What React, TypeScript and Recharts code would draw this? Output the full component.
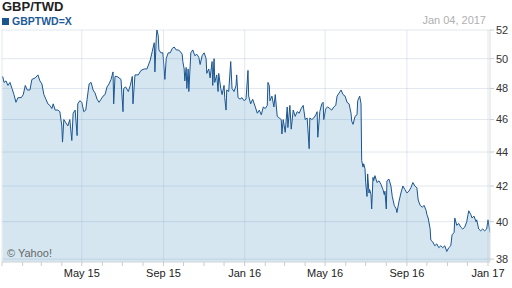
import { AreaChart, Area, XAxis, YAxis, CartesianGrid, ReferenceLine } from "recharts";

document.body.style.margin = "0";

// days since 1 Jan 2015
const tradingDays = [
  1, 3, 6, 9, 12, 15, 18, 21, 24, 29,
  32, 35, 38, 42, 45, 50, 54, 57, 60, 63,
  66, 69, 72, 75, 77, 80, 84, 87, 90, 91,
  93, 96, 99, 102, 105, 107, 110, 113, 114, 117,
  120, 123, 126, 128, 131, 134, 137, 140, 143, 146,
  149, 152, 155, 158, 161, 164, 167, 168, 170, 173,
  176, 179, 182, 183, 186, 190, 193, 196, 197, 200,
  205, 209, 214, 218, 223, 226, 229, 230, 232, 233,
  235, 236, 239, 242, 245, 247, 250, 253, 256, 259,
  262, 265, 268, 271, 272, 274, 275, 277, 278, 280,
  281, 283, 284, 287, 290, 293, 296, 298, 301, 304,
  307, 308, 311, 313, 316, 317, 319, 320, 323, 325,
  326, 329, 331, 334, 335, 337, 338, 341, 344, 346,
  349, 352, 353, 355, 358, 361, 364, 367, 370, 371,
  374, 377, 381, 384, 387, 390, 393, 396, 399, 400,
  402, 403, 406, 409, 411, 414, 417, 420, 421, 423,
  426, 429, 430, 433, 435, 438, 441, 444, 447, 450,
  453, 456, 459, 462, 463, 466, 469, 472, 474, 475,
  478, 481, 483, 484, 487, 490, 493, 496, 499, 502,
  504, 507, 510, 513, 516, 519, 522, 525, 526, 528,
  531, 534, 535, 538, 540, 541, 543, 544, 546, 547,
  549, 550, 552, 553, 555, 556, 558, 559, 561, 564,
  567, 570, 573, 575, 576, 578, 579, 582, 585, 587,
  590, 593, 594, 597, 600, 603, 606, 609, 612, 615,
  618, 621, 624, 626, 629, 632, 635, 638, 639, 641,
  644, 645, 648, 651, 654, 657, 660, 663, 666, 669,
  672, 675, 677, 680, 681, 684, 687, 690, 693, 696,
  699, 701, 702, 705, 707, 710, 713, 714, 717, 720,
  723, 726, 729, 731, 734,
];

const gbpTwd = [
  48.8, 48.4, 48.5, 48.2, 48.4, 48.0, 47.6, 47.1, 47.4, 47.4,
  47.6, 48.2, 47.9, 47.9, 48.6, 48.7, 48.9, 48.5, 48.3, 47.6,
  47.3, 47.0, 46.9, 46.7, 47.0, 46.6, 46.6, 46.5, 45.6, 44.6,
  46.0, 45.8, 45.6, 46.0, 44.7, 46.4, 46.6, 45.0, 47.0, 47.2,
  47.1, 46.5, 46.6, 47.3, 48.3, 48.4, 47.9, 47.7, 47.3, 47.1,
  47.3, 47.5, 47.6, 48.1, 48.3, 48.6, 49.1, 47.0, 48.8, 48.8,
  48.7, 48.6, 46.5, 48.0, 48.1, 47.8, 48.2, 48.8, 47.0, 48.9,
  48.9, 49.2, 49.3, 49.3, 49.9, 50.5, 51.1, 49.1, 51.4, 52.0,
  51.6, 50.6, 50.4, 50.4, 48.6, 50.0, 50.4, 50.4, 50.7, 50.8,
  50.6, 50.6, 50.5, 50.3, 49.8, 49.3, 48.5, 49.4, 48.0, 49.3,
  47.8, 49.5, 50.4, 50.6, 50.2, 50.3, 50.1, 49.6, 50.2, 50.4,
  50.0, 49.0, 49.3, 48.7, 49.8, 48.2, 50.0, 48.4, 48.9, 47.8,
  49.0, 48.0, 47.6, 48.2, 47.4, 46.6, 47.9, 47.8, 49.8, 48.0,
  47.8, 48.2, 48.9, 47.4, 47.3, 47.4, 47.2, 47.3, 49.2, 47.5,
  47.0, 47.3, 46.8, 46.4, 46.6, 46.3, 46.8, 46.7, 46.9, 48.4,
  48.2, 47.2, 47.5, 46.8, 47.6, 46.2, 46.1, 46.0, 45.1, 46.0,
  45.2, 46.8, 45.5, 46.9, 45.4, 46.6, 46.2, 46.5, 46.4, 46.7,
  46.9, 46.0, 46.1, 44.2, 46.1, 46.0, 46.1, 46.3, 46.5, 44.9,
  46.5, 47.0, 47.1, 46.0, 46.7, 46.8, 46.7, 46.6, 46.8, 46.9,
  47.5, 47.7, 47.9, 47.6, 47.5, 47.1, 47.0, 46.4, 45.9, 45.7,
  46.2, 46.3, 47.2, 47.5, 47.0, 43.5, 43.1, 43.3, 43.0, 42.2,
  41.4, 42.7, 41.6, 41.8, 41.5, 40.7, 42.5, 42.3, 42.6, 42.2,
  42.3, 42.1, 41.8, 41.5, 41.7, 40.7, 42.3, 42.4, 42.0, 41.4,
  40.9, 40.7, 40.5, 41.1, 41.6, 42.0, 41.8, 41.6, 41.7, 41.9,
  42.2, 42.0, 41.9, 41.2, 40.9, 40.8, 40.9, 40.6, 40.4, 40.2,
  39.6, 39.0, 38.9, 38.7, 38.8, 38.6, 38.7, 38.6, 38.7, 38.4,
  38.6, 38.7, 39.3, 39.4, 40.2, 39.8, 39.9, 39.7, 39.6, 39.7,
  40.0, 40.4, 40.6, 40.4, 40.2, 40.3, 40.0, 40.1, 39.6, 39.5,
  39.6, 39.5, 39.6, 40.1, 39.4,
];

const monthStarts = [0, 31, 59, 90, 120, 151, 181, 212, 243, 273, 304, 334, 365, 396, 425, 456, 486, 517, 547, 578, 609, 639, 670, 700, 731];
const majorTicks = [120, 243, 365, 486, 609, 731];
const majorLabels = ["May 15", "Sep 15", "Jan 16", "May 16", "Sep 16", "Jan 17"];
const yTicks = [38, 40, 42, 44, 46, 48, 50, 52];

const data = tradingDays.map((day, i) => ({ day, rate: gbpTwd[i] }));

const font = "Arial, 'Liberation Sans', sans-serif";
const gridStroke = "#9fb3c8";

export default function App() {
  return (
    <div style={{ position: "relative", width: 512, height: 288, fontFamily: font, background: "#fff" }}>
      <AreaChart width={512} height={288} data={data} margin={{ top: 30, right: 0, bottom: 0, left: 2 }}>
        <CartesianGrid vertical={false} stroke={gridStroke} strokeOpacity={0.3} />
        <ReferenceLine x={0} stroke={gridStroke} strokeOpacity={0.3} />
        {majorTicks.map((t) => (
          <ReferenceLine key={t} x={t} stroke={gridStroke} strokeOpacity={0.3} />
        ))}
        <XAxis
          dataKey="day"
          type="number"
          domain={[0, 734]}
          allowDataOverflow
          ticks={monthStarts}
          interval={0}
          tickFormatter={(d: number) => {
            const i = majorTicks.indexOf(d);
            return i >= 0 ? majorLabels[i] : "";
          }}
          height={26}
          tickSize={4}
          tickMargin={3}
          tickLine={{ stroke: "#ccc" }}
          axisLine={{ stroke: "#ddd" }}
          tick={{ fontSize: 11, fill: "#222", fontFamily: font }}
        />
        <YAxis
          orientation="right"
          type="number"
          scale="log"
          domain={[37.85, 52]}
          allowDataOverflow
          ticks={yTicks}
          width={22}
          tickSize={4}
          tickMargin={2}
          tickLine={{ stroke: "#ccc" }}
          axisLine={{ stroke: "#ddd" }}
          tick={{ fontSize: 11, fill: "#333", fontFamily: font, textAnchor: "start" }}
        />
        <Area
          type="linear"
          dataKey="rate"
          baseValue="dataMin"
          stroke="#1a5590"
          strokeWidth={1}
          fill="#2d82b9"
          fillOpacity={0.2}
          dot={false}
          activeDot={false}
          isAnimationActive={false}
        />
      </AreaChart>
      <div style={{ position: "absolute", left: 2, top: 0, fontSize: 13, fontWeight: "bold", lineHeight: 1, color: "#222" }}>
        GBP/TWD
      </div>
      <div style={{ position: "absolute", left: 2, top: 16, height: 11, display: "flex", alignItems: "center", fontSize: 10.5, fontWeight: "bold", color: "#1c5a99", lineHeight: 1 }}>
        <span style={{ display: "inline-block", width: 7, height: 7, background: "#1a5590", marginRight: 3 }} />
        GBPTWD=X
      </div>
      <div style={{ position: "absolute", right: 26, top: 15, fontSize: 11, color: "#b0b0b0", lineHeight: 1 }}>
        Jan 04, 2017
      </div>
      <div style={{ position: "absolute", left: 7, top: 248, fontSize: 11, color: "#666", lineHeight: 1 }}>
        © Yahoo!
      </div>
    </div>
  );
}
